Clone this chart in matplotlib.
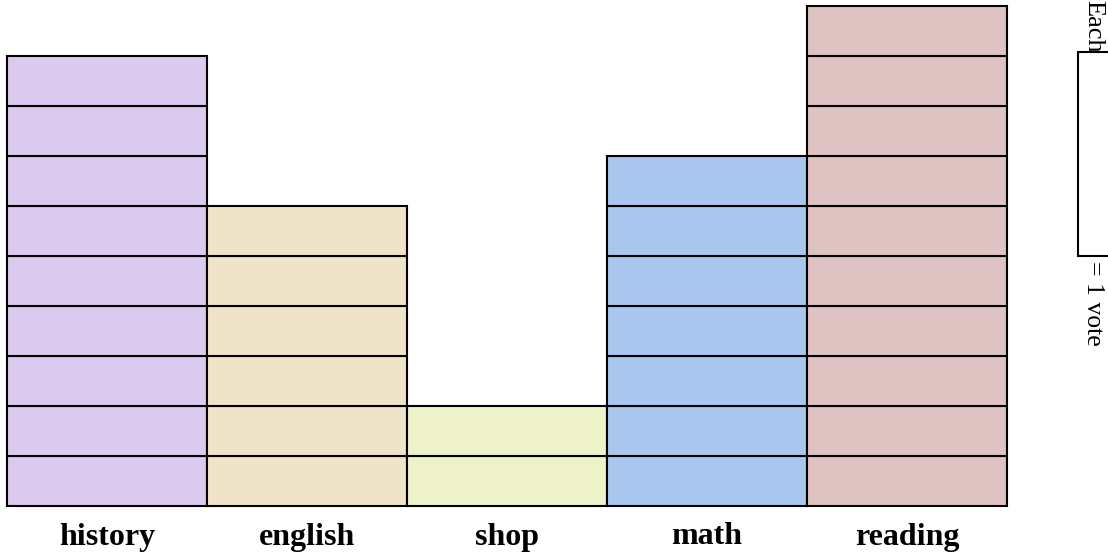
import matplotlib
matplotlib.use("Agg")
import matplotlib.pyplot as plt
from matplotlib.patches import Rectangle

categories = ["history", "english", "shop", "math", "reading"]
votes = [9, 6, 2, 7, 10]
colors = ["#dcc9f0", "#f0e4c8", "#edf2c9", "#a9c6ef", "#dfc3c3"]

W, H = 1108, 557
fig = plt.figure(figsize=(W / 100, H / 100), dpi=100)
ax = fig.add_axes([7 / W, 51 / H, 1000 / W, 500 / H])
ax.set_xlim(-0.5, len(categories) - 0.5)
ax.set_ylim(0, max(votes))
ax.axis("off")

for i, (cat, v, c) in enumerate(zip(categories, votes, colors)):
    ax.bar([i] * v, [1] * v, bottom=list(range(v)), width=1.0, color=c,
           edgecolor="black", linewidth=1.5, clip_on=False)
    ax.text(i, -0.62, cat, ha="center", va="center", fontsize=23,
            fontweight="bold", family="Liberation Serif")

# Legend: rotated "Each [block] = 1 vote"
fig.text(1093 / W, 1 - 26 / H, "Each", rotation=270, ha="center", va="center",
         fontsize=19, family="Liberation Serif")
fig.patches.append(Rectangle((1078 / W, 1 - 256 / H), 50 / W, 204 / H,
                             transform=fig.transFigure, facecolor="white",
                             edgecolor="black", linewidth=1.5))
fig.text(1093 / W, 1 - 303 / H, "= 1 vote", rotation=270, ha="center", va="center",
         fontsize=18.5, family="Liberation Serif")

fig.savefig("out.png", dpi=100)
